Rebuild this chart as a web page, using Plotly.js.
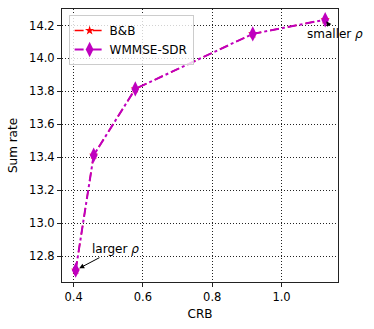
<!DOCTYPE html>
<html>
<head>
<meta charset="utf-8">
<script src="https://cdn.plot.ly/plotly-3.0.1.min.js"></script>
<style>html,body{margin:0;padding:0;background:#fff;}#chart{width:374px;height:329px;}</style>
</head>
<body>
<div id="chart"></div>
<script>
// Data
const crb = [0.406, 0.458, 0.578, 0.917, 1.126];
const rateBB = [12.715, 13.413, 13.815, 14.149, 14.235];
const rateWMMSE = [12.715, 13.413, 13.815, 14.149, 14.235];
const seriesNames = ['B&B', 'WMMSE-SDR'];
const xTicks = [0.4, 0.6, 0.8, 1.0];
const yTicks = [12.8, 13.0, 13.2, 13.4, 13.6, 13.8, 14.0, 14.2];

const FONT = 'DejaVu Sans, sans-serif';

const traces = [
  {
    x: crb, y: rateBB, name: seriesNames[0], mode: 'lines+markers',
    line: {color: '#ff0000', width: 1.5, dash: 'dash'},
    marker: {symbol: 'star', size: 7, color: '#ff0000'}
  },
  {
    x: crb, y: rateWMMSE, name: seriesNames[1], mode: 'lines+markers',
    line: {color: '#bf00bf', width: 2, dash: 'dashdot'},
    marker: {symbol: 'diamond-tall', size: 11, color: '#bf00bf'}
  }
];

const axisCommon = {
  showline: true, mirror: true, linecolor: '#222', linewidth: 1,
  ticks: 'outside', ticklen: 4, tickwidth: 1, tickcolor: '#222',
  showgrid: true, gridcolor: '#222', gridwidth: 1, griddash: '1px,2px',
  zeroline: false, tickformat: '.1f',
  tickfont: {family: FONT, size: 11.5, color: '#000'}
};

const layout = {
  width: 374, height: 329,
  margin: {l: 62, r: 36, t: 9, b: 47},
  paper_bgcolor: '#fff', plot_bgcolor: '#fff',
  font: {family: FONT, color: '#000'},
  showlegend: true,
  legend: {
    x: 0.024, y: 0.978, xanchor: 'left', yanchor: 'top',
    bgcolor: 'rgba(255,255,255,0.8)', bordercolor: '#ccc', borderwidth: 1,
    font: {family: FONT, size: 12, color: '#000'},
    tracegroupgap: 0, itemwidth: 30
  },
  xaxis: Object.assign({}, axisCommon, {
    range: [0.3665, 1.163], tickvals: xTicks,
    title: {text: 'CRB', font: {family: FONT, size: 12}, standoff: 6}
  }),
  yaxis: Object.assign({}, axisCommon, {
    range: [12.643, 14.30], tickvals: yTicks,
    title: {text: 'Sum rate', font: {family: FONT, size: 12}, standoff: 8}
  }),
  annotations: [
    {
      x: crb[0], y: rateWMMSE[0], xref: 'x', yref: 'y',
      text: 'larger <i>ρ</i>', showarrow: true,
      ax: 40, ay: -21, arrowhead: 2, arrowsize: 1, arrowwidth: 1,
      arrowcolor: '#000', standoff: 4,
      font: {family: FONT, size: 12, color: '#000'}
    },
    {
      x: crb[4], y: rateWMMSE[4], xref: 'x', yref: 'y',
      text: 'smaller <i>ρ</i>', showarrow: true,
      ax: 10, ay: 14, arrowhead: 2, arrowsize: 1, arrowwidth: 1,
      arrowcolor: '#000', standoff: 2,
      font: {family: FONT, size: 12, color: '#000'}
    }
  ]
};

Plotly.newPlot('chart', traces, layout, {displayModeBar: false, staticPlot: true});
</script>
</body>
</html>
